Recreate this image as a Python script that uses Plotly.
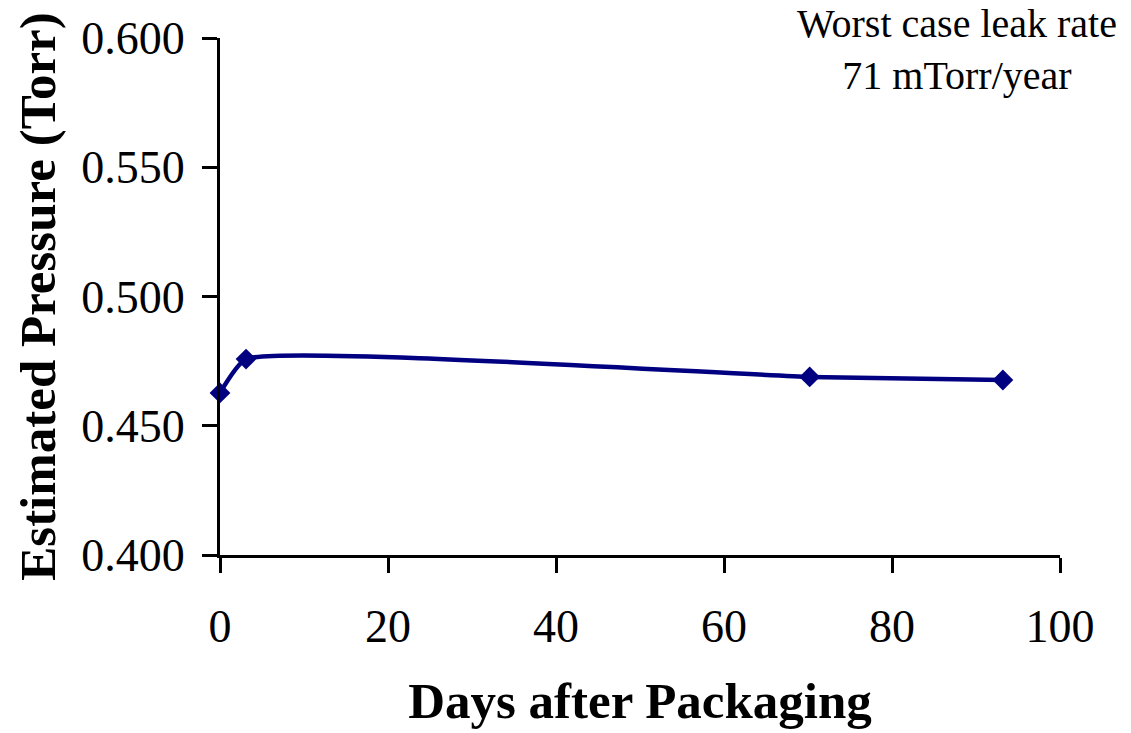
import plotly.graph_objects as go

# Pressure estimates after packaging
days = [0, 3.1, 70.2, 93.2]
pressure = [0.4627, 0.4758, 0.4689, 0.4677]

x_ticks = [0, 20, 40, 60, 80, 100]
y_ticks = [0.400, 0.450, 0.500, 0.550, 0.600]
y_tick_labels = ["0.400", "0.450", "0.500", "0.550", "0.600"]

serif = "Liberation Serif, Times New Roman, serif"
navy = "#000080"

fig = go.Figure()
fig.add_trace(go.Scatter(
    x=days, y=pressure,
    mode="lines+markers",
    line=dict(color=navy, width=4.5, shape="spline", smoothing=0.45),
    marker=dict(symbol="diamond", size=16, color=navy),
    showlegend=False,
    cliponaxis=False,
))

fig.update_layout(
    width=1131, height=733,
    margin=dict(l=220, r=71, t=38, b=178),
    paper_bgcolor="white", plot_bgcolor="white",
    font=dict(family=serif, color="black", size=46),
    xaxis=dict(
        range=[0, 100], tickvals=x_ticks, ticks="outside", ticklen=15,
        tickwidth=3, tickcolor="black", showline=True, linecolor="black",
        linewidth=3, showgrid=False, zeroline=False,
        tickfont=dict(size=46), ticklabelstandoff=14,
        title=dict(text="<b>Days after Packaging</b>", font=dict(size=51), standoff=32),
    ),
    yaxis=dict(
        range=[0.4, 0.6], tickvals=y_ticks, ticktext=y_tick_labels,
        ticks="outside", ticklen=15, tickwidth=3, tickcolor="black",
        showline=True, linecolor="black", linewidth=3, showgrid=False,
        zeroline=False, tickfont=dict(size=46), ticklabelstandoff=8,
        title=dict(text="<b>Estimated Pressure (Torr)</b>", font=dict(size=51), standoff=10),
    ),
    annotations=[dict(
        text="Worst case leak rate<br>71 mTorr/year",
        xref="paper", yref="paper", x=0.877, y=1.075,
        xanchor="center", yanchor="top", showarrow=False,
        font=dict(size=40, family=serif), align="center",
    )],
)

fig.write_html("out.html")
